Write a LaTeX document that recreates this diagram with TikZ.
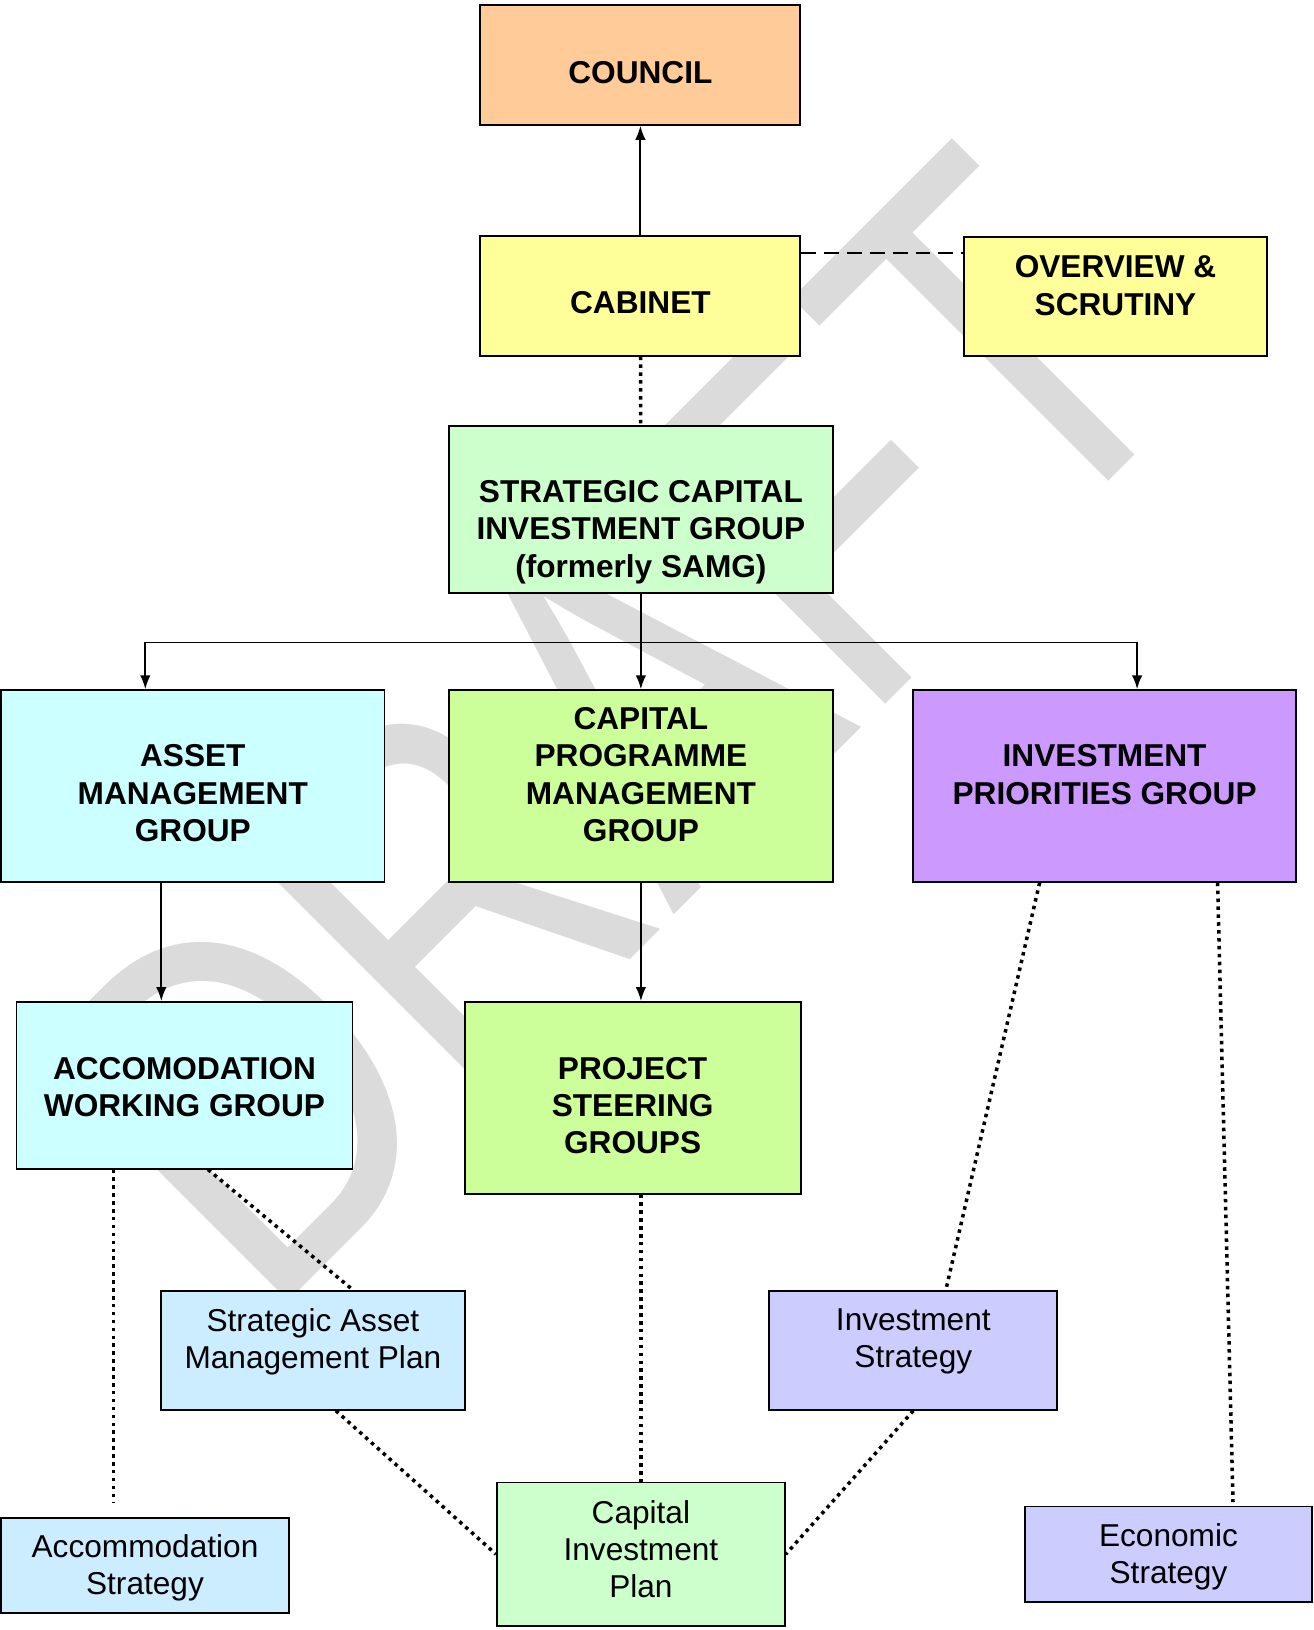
\documentclass[tikz,border=0pt]{standalone}
\usepackage{fontspec}
\setmainfont{Liberation Sans}
\usetikzlibrary{arrows.meta}

\definecolor{councilcol}{HTML}{FFCC99}
\definecolor{cabinetcol}{HTML}{FFFF99}
\definecolor{scigcol}{HTML}{CCFFCC}
\definecolor{assetcol}{HTML}{CCFFFF}
\definecolor{capitalcol}{HTML}{CCFF99}
\definecolor{investcol}{HTML}{CC99FF}
\definecolor{plancol}{HTML}{CCECFF}
\definecolor{strategycol}{HTML}{CCCCFF}

\begin{document}
\begin{tikzpicture}[x=0.02cm,y=-0.02cm,>={Latex[length=8pt,width=6pt]},
  box/.style={draw,line width=1.1pt,inner sep=0pt},
  head/.style={font=\bfseries\fontsize{18}{21.2}\selectfont,align=center},
  plain/.style={font=\fontsize{18}{21.2}\selectfont,align=center},
  arrowline/.style={->,line width=1.1pt},
  link/.style={line width=2pt,dash pattern=on 2pt off 2.5pt}]
\useasboundingbox (0,0) rectangle (1313,1630);

% watermark
\node[text=gray!28,font=\fontsize{292}{292}\selectfont,rotate=45,inner sep=0pt] (draft) at (612,728) {\scalebox{0.78}[1]{DRAFT}};

\node[box,fill=councilcol,minimum width=6.40cm,minimum height=2.39cm] (council) at (640.4,65) {};
\node[box,fill=cabinetcol,minimum width=6.40cm,minimum height=2.39cm] (cabinet) at (640.4,295.8) {};
\node[box,fill=cabinetcol,minimum width=6.07cm,minimum height=2.37cm] (overview) at (1115.5,296.3) {};
\node[box,fill=scigcol,minimum width=7.67cm,minimum height=3.33cm] (scig) at (640.9,509.4) {};
\node[box,fill=assetcol,minimum width=7.67cm,minimum height=3.83cm] (amg) at (192.8,786) {};
\node[box,fill=capitalcol,minimum width=7.67cm,minimum height=3.83cm] (cpmg) at (640.9,786) {};
\node[box,fill=investcol,minimum width=7.67cm,minimum height=3.83cm] (ipg) at (1104.6,786) {};
\node[box,fill=assetcol,minimum width=6.72cm,minimum height=3.33cm] (awg) at (184.5,1085.3) {};
\node[box,fill=capitalcol,minimum width=6.72cm,minimum height=3.83cm] (psg) at (632.6,1097.8) {};
\node[box,fill=plancol,minimum width=6.07cm,minimum height=2.37cm] (samp) at (312.9,1350.5) {};
\node[box,fill=strategycol,minimum width=5.76cm,minimum height=2.37cm] (invs) at (913.3,1350.5) {};
\node[box,fill=plancol,minimum width=5.76cm,minimum height=1.91cm] (accs) at (145,1565.7) {};
\node[box,fill=scigcol,minimum width=5.76cm,minimum height=2.87cm] (cip) at (640.9,1554.2) {};
\node[box,fill=strategycol,minimum width=5.74cm,minimum height=1.91cm] (ecs) at (1168.5,1554.2) {};

\node[head] (councilT) at (640.4,72.8) {COUNCIL};
\node[head] (cabinetT) at (640.4,302.5) {CABINET};
\node[head] (overviewT) at (1115.5,285.5) {OVERVIEW \&\\SCRUTINY};
\node[head] (scigT) at (640.9,532) {STRATEGIC CAPITAL\\INVESTMENT GROUP\\(formerly SAMG)};
\node[head] (amgT) at (192.8,793.2) {ASSET\\MANAGEMENT\\GROUP};
\node[head] (cpmgT) at (640.9,774.5) {CAPITAL\\PROGRAMME\\MANAGEMENT\\GROUP};
\node[head] (ipgT) at (1104.6,774.5) {INVESTMENT\\PRIORITIES GROUP};
\node[head] (awgT) at (184.5,1086.9) {ACCOMODATION\\WORKING GROUP};
\node[head] (psgT) at (632.6,1105.6) {PROJECT\\STEERING\\GROUPS};
\node[plain] (sampT) at (312.9,1341.5) {Strategic Asset\\Management Plan};
\node[plain] (invsT) at (913.3,1341.5) {Investment\\Strategy};
\node[plain] (accsT) at (145,1567.5) {Accommodation\\Strategy};
\node[plain] (cipT) at (640.9,1549) {Capital\\Investment\\Plan};
\node[plain] (ecsT) at (1168.5,1557) {Economic\\Strategy};

\draw[arrowline] (cabinet) -- (council);
\draw[line width=1.5pt,dash pattern=on 8.5pt off 4.5pt] ([yshift=-0.36cm]cabinet.north east) -- ([yshift=-0.36cm]cabinet.north east -| overview.west);
\draw[link] (cabinet) -- (scig);

\coordinate (fork) at (640.9,642.5);
\draw[arrowline] (scig) -- (cpmg);
\draw[arrowline] (fork) -| ([xshift=-0.95cm]amg.north);
\draw[arrowline] (fork) -| ([xshift=0.65cm]ipg.north);
\draw[arrowline] ([xshift=-0.63cm]amg.south) -- ([xshift=-0.63cm]amg.south |- awg.north);
\draw[arrowline] (cpmg.south) -- (cpmg.south |- psg.north);

\coordinate (accend) at (113.3,1502);
\coordinate (ecsend) at (1233,1502);
\draw[link] (awg.south -| accend) -- (accend);
\draw[link] ([xshift=0.47cm]awg.south) -- ([xshift=0.81cm]samp.north);
\draw[link] ([xshift=0.46cm]samp.south) -- (cip.west);
\draw[link] (psg.south -| cip.north) -- (cip.north);
\draw[link] ([xshift=-1.3cm]ipg.south) -- ([xshift=0.65cm]invs.north);
\draw[link] (invs.south) -- (cip.east);
\draw[link] ([xshift=2.26cm]ipg.south) -- (ecsend);

\end{tikzpicture}
\end{document}
